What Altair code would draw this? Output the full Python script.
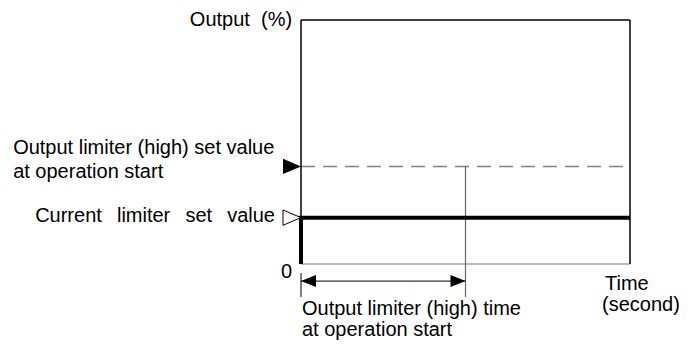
import altair as alt
import pandas as pd

# ---- data (time axis 0..100, output axis 0..100 %) ----
x_end = 100
y_top = 100
limiter_high = 40          # output limiter (high) set value at operation start
current_limit = 19         # current limiter set value
limiter_time = 50          # output limiter (high) time at operation start
below_axis = -13.5         # extension of dimension lines below the time axis
arrow_level = -7
tick_top = -3.7

# labels
lab_left_text = ["Output limiter (high) set value", "at operation start",
                 "Time", "(second)",
                 "Output limiter (high) time", "at operation start"]
lab_left_x = [-87.5, -87.5, 92.4, 91.5, 0.3, 0.3]
lab_left_y = [45.1, 35.2, -10.7, -19.3, -20.9, -29.5]

lab_right_text = ["Output\u00a0 (%)",
                  "Current\u00a0\u2009 limiter\u00a0\u2009 set\u00a0\u2009 value", "0"]
lab_right_x = [-2.7, -7.9, -2.7]
lab_right_y = [97.5, 17.2, -5.7]

FONT = "Liberation Sans"
FS = 20

xs = alt.Scale(domain=[0, x_end], nice=False, zero=False)
ys = alt.Scale(domain=[0, y_top], nice=False, zero=False)
X = lambda f="x": alt.X(f"{f}:Q", scale=xs, axis=None)
Y = lambda f="y": alt.Y(f"{f}:Q", scale=ys, axis=None)

# frame (black top/left/right, gray bottom)
frame = pd.DataFrame({"x": [0, x_end, 0], "x2": [x_end, x_end, 0],
                      "y": [y_top, 0, 0], "y2": [y_top, y_top, y_top]})
frame_l = alt.Chart(frame).mark_rule(color="black", strokeWidth=1.5).encode(
    x=X(), x2="x2:Q", y=Y(), y2="y2:Q")
bottom = pd.DataFrame({"x": [0], "x2": [x_end], "y": [0], "y2": [0]})
bottom_l = alt.Chart(bottom).mark_rule(color="#777777", strokeWidth=1).encode(
    x=X(), x2="x2:Q", y=Y(), y2="y2:Q")

# dashed limiter line
dash = pd.DataFrame({"x": [0], "x2": [x_end], "y": [limiter_high], "y2": [limiter_high]})
dash_l = alt.Chart(dash).mark_rule(color="#808080", strokeWidth=1.5, strokeDash=[14, 8]).encode(
    x=X(), x2="x2:Q", y=Y(), y2="y2:Q")

# vertical thin line at limiter time
vline = pd.DataFrame({"x": [limiter_time], "x2": [limiter_time], "y": [limiter_high], "y2": [below_axis]})
vline_l = alt.Chart(vline).mark_rule(color="#666666", strokeWidth=1.2).encode(
    x=X(), x2="x2:Q", y=Y(), y2="y2:Q")

# left tick and dimension arrow line
dim = pd.DataFrame({"x": [0, 0], "x2": [0, limiter_time],
                    "y": [tick_top, arrow_level], "y2": [below_axis, arrow_level]})
dim_l = alt.Chart(dim).mark_rule(color="black", strokeWidth=1).encode(
    x=X(), x2="x2:Q", y=Y(), y2="y2:Q")

# thick output line
out = pd.DataFrame({"x": [0, 0, x_end], "y": [0, current_limit, current_limit], "o": [0, 1, 2]})
out_l = alt.Chart(out).mark_line(color="black", strokeWidth=4, strokeCap="butt", strokeJoin="miter").encode(
    x=X(), y=Y(), order="o:Q")

# markers
tri_right = "M -2 -0.85 L 0 0 L -2 0.85 Z"
mk_fill = alt.Chart(pd.DataFrame({"x": [0], "y": [limiter_high]})).mark_point(
    shape=tri_right, size=324, filled=True, color="black", opacity=1).encode(x=X(), y=Y())
mk_open = alt.Chart(pd.DataFrame({"x": [0], "y": [current_limit]})).mark_point(
    shape=tri_right, size=324, filled=True, fill="white", stroke="black", strokeWidth=1, opacity=1).encode(x=X(), y=Y())

arr_left = "M 0 0 L 2 -0.8 L 2 0.8 Z"
arr_right = "M 0 0 L -2 -0.8 L -2 0.8 Z"
ah_l = alt.Chart(pd.DataFrame({"x": [0], "y": [arrow_level]})).mark_point(
    shape=arr_left, size=225, filled=True, color="black", opacity=1).encode(x=X(), y=Y())
ah_r = alt.Chart(pd.DataFrame({"x": [limiter_time], "y": [arrow_level]})).mark_point(
    shape=arr_right, size=225, filled=True, color="black", opacity=1).encode(x=X(), y=Y())

# text
tl = alt.Chart(pd.DataFrame({"x": lab_left_x, "y": lab_left_y, "t": lab_left_text})).mark_text(
    align="left", baseline="alphabetic", font=FONT, fontSize=FS, color="black").encode(
    x=X(), y=Y(), text="t:N")
tr = alt.Chart(pd.DataFrame({"x": lab_right_x, "y": lab_right_y, "t": lab_right_text})).mark_text(
    align="right", baseline="alphabetic", font=FONT, fontSize=FS, color="black").encode(
    x=X(), y=Y(), text="t:N")

chart = alt.layer(bottom_l, dash_l, vline_l, dim_l, frame_l, out_l, mk_fill, mk_open, ah_l, ah_r, tl, tr).properties(
    width=329, height=244,
    autosize=alt.AutoSizeParams(type="none"),
    padding={"left": 293, "top": 12, "right": 50, "bottom": 77},
    background="white",
).configure_view(stroke=None)

chart.save("out.html", embed_options={"renderer": "svg", "actions": False})
